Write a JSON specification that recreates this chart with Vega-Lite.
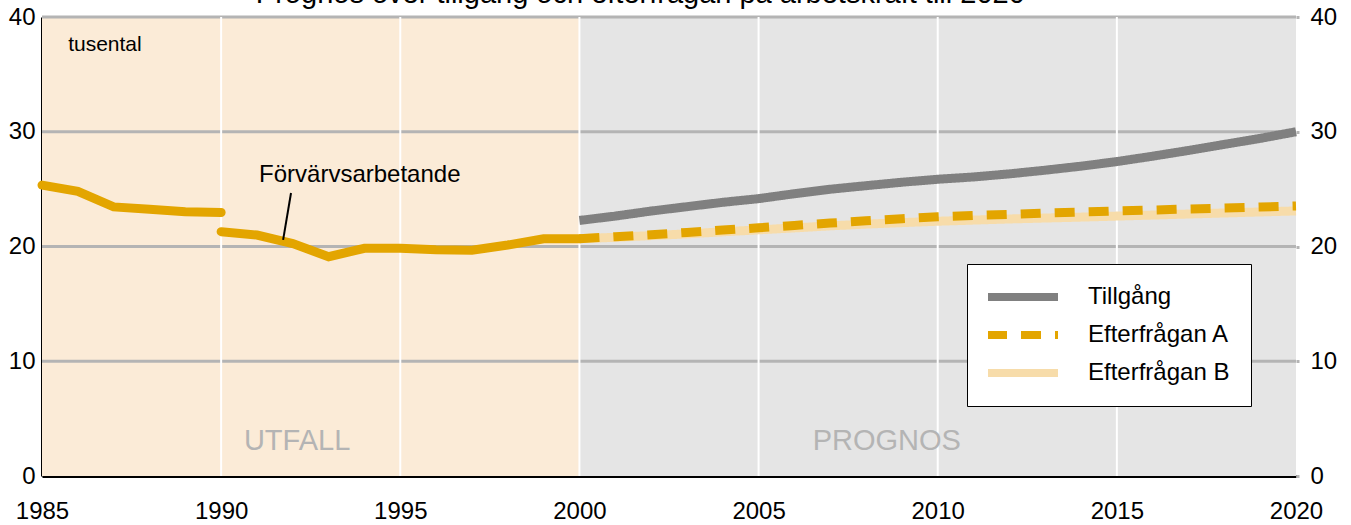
{
  "$schema": "https://vega.github.io/schema/vega-lite/v6.json",
  "width": 1254,
  "height": 459,
  "autosize": {"type": "none"},
  "padding": {"left": 42, "top": 17, "right": 55, "bottom": 49},
  "background": "white",
  "config": {
    "font": "Liberation Sans",
    "view": {"stroke": null},
    "axis": {"labelFont": "Liberation Sans", "labelColor": "#000000", "labelFontSize": 24, "title": null, "grid": false}
  },
  "datasets": {
    "periods": [
      {"start": 1985, "end": 2000, "period": "utfall"},
      {"start": 2000, "end": 2020, "period": "prognos"}
    ],
    "hgrid": [{"v": 10}, {"v": 20}, {"v": 30}, {"v": 40}],
    "vgrid": [{"yr": 1990}, {"yr": 1995}, {"yr": 2000}, {"yr": 2005}, {"yr": 2010}, {"yr": 2015}],
    "history": [
      {"year": 1985, "value": 25.35, "seg": "a"},
      {"year": 1986, "value": 24.8, "seg": "a"},
      {"year": 1987, "value": 23.45, "seg": "a"},
      {"year": 1988, "value": 23.25, "seg": "a"},
      {"year": 1989, "value": 23.03, "seg": "a"},
      {"year": 1990, "value": 22.97, "seg": "a"},
      {"year": 1990, "value": 21.29, "seg": "b"},
      {"year": 1991, "value": 21.0, "seg": "b"},
      {"year": 1992, "value": 20.25, "seg": "b"},
      {"year": 1993, "value": 19.11, "seg": "b"},
      {"year": 1994, "value": 19.84, "seg": "b"},
      {"year": 1995, "value": 19.84, "seg": "b"},
      {"year": 1996, "value": 19.72, "seg": "b"},
      {"year": 1997, "value": 19.68, "seg": "b"},
      {"year": 1998, "value": 20.13, "seg": "b"},
      {"year": 1999, "value": 20.68, "seg": "b"},
      {"year": 2000, "value": 20.68, "seg": "b"}
    ],
    "forecast": [
      {"year": 2000, "value": 22.27, "serie": "Tillgång"},
      {"year": 2001, "value": 22.65, "serie": "Tillgång"},
      {"year": 2002, "value": 23.09, "serie": "Tillgång"},
      {"year": 2003, "value": 23.47, "serie": "Tillgång"},
      {"year": 2004, "value": 23.85, "serie": "Tillgång"},
      {"year": 2005, "value": 24.17, "serie": "Tillgång"},
      {"year": 2006, "value": 24.6, "serie": "Tillgång"},
      {"year": 2007, "value": 24.99, "serie": "Tillgång"},
      {"year": 2008, "value": 25.3, "serie": "Tillgång"},
      {"year": 2009, "value": 25.6, "serie": "Tillgång"},
      {"year": 2010, "value": 25.86, "serie": "Tillgång"},
      {"year": 2011, "value": 26.06, "serie": "Tillgång"},
      {"year": 2012, "value": 26.33, "serie": "Tillgång"},
      {"year": 2013, "value": 26.65, "serie": "Tillgång"},
      {"year": 2014, "value": 27.0, "serie": "Tillgång"},
      {"year": 2015, "value": 27.4, "serie": "Tillgång"},
      {"year": 2016, "value": 27.87, "serie": "Tillgång"},
      {"year": 2017, "value": 28.37, "serie": "Tillgång"},
      {"year": 2018, "value": 28.9, "serie": "Tillgång"},
      {"year": 2019, "value": 29.42, "serie": "Tillgång"},
      {"year": 2020, "value": 30.0, "serie": "Tillgång"},
      {"year": 2000, "value": 20.68, "serie": "Efterfrågan B"},
      {"year": 2001, "value": 20.8, "serie": "Efterfrågan B"},
      {"year": 2002, "value": 20.95, "serie": "Efterfrågan B"},
      {"year": 2003, "value": 21.1, "serie": "Efterfrågan B"},
      {"year": 2004, "value": 21.28, "serie": "Efterfrågan B"},
      {"year": 2005, "value": 21.45, "serie": "Efterfrågan B"},
      {"year": 2006, "value": 21.62, "serie": "Efterfrågan B"},
      {"year": 2007, "value": 21.8, "serie": "Efterfrågan B"},
      {"year": 2008, "value": 21.95, "serie": "Efterfrågan B"},
      {"year": 2009, "value": 22.08, "serie": "Efterfrågan B"},
      {"year": 2010, "value": 22.2, "serie": "Efterfrågan B"},
      {"year": 2011, "value": 22.3, "serie": "Efterfrågan B"},
      {"year": 2012, "value": 22.4, "serie": "Efterfrågan B"},
      {"year": 2013, "value": 22.48, "serie": "Efterfrågan B"},
      {"year": 2014, "value": 22.56, "serie": "Efterfrågan B"},
      {"year": 2015, "value": 22.65, "serie": "Efterfrågan B"},
      {"year": 2016, "value": 22.74, "serie": "Efterfrågan B"},
      {"year": 2017, "value": 22.83, "serie": "Efterfrågan B"},
      {"year": 2018, "value": 22.92, "serie": "Efterfrågan B"},
      {"year": 2019, "value": 23.01, "serie": "Efterfrågan B"},
      {"year": 2020, "value": 23.1, "serie": "Efterfrågan B"},
      {"year": 2000, "value": 20.68, "serie": "Efterfrågan A"},
      {"year": 2001, "value": 20.85, "serie": "Efterfrågan A"},
      {"year": 2002, "value": 21.02, "serie": "Efterfrågan A"},
      {"year": 2003, "value": 21.22, "serie": "Efterfrågan A"},
      {"year": 2004, "value": 21.43, "serie": "Efterfrågan A"},
      {"year": 2005, "value": 21.63, "serie": "Efterfrågan A"},
      {"year": 2006, "value": 21.84, "serie": "Efterfrågan A"},
      {"year": 2007, "value": 22.04, "serie": "Efterfrågan A"},
      {"year": 2008, "value": 22.24, "serie": "Efterfrågan A"},
      {"year": 2009, "value": 22.42, "serie": "Efterfrågan A"},
      {"year": 2010, "value": 22.6, "serie": "Efterfrågan A"},
      {"year": 2011, "value": 22.71, "serie": "Efterfrågan A"},
      {"year": 2012, "value": 22.8, "serie": "Efterfrågan A"},
      {"year": 2013, "value": 22.92, "serie": "Efterfrågan A"},
      {"year": 2014, "value": 23.0, "serie": "Efterfrågan A"},
      {"year": 2015, "value": 23.1, "serie": "Efterfrågan A"},
      {"year": 2016, "value": 23.18, "serie": "Efterfrågan A"},
      {"year": 2017, "value": 23.27, "serie": "Efterfrågan A"},
      {"year": 2018, "value": 23.35, "serie": "Efterfrågan A"},
      {"year": 2019, "value": 23.44, "serie": "Efterfrågan A"},
      {"year": 2020, "value": 23.53, "serie": "Efterfrågan A"}
    ],
    "leader": [{"x1": 1991.73, "y1": 20.57, "x2": 1991.95, "y2": 24.66}],
    "labels": [
      {"lx": 1993.87, "ly": 26.2, "txt": "Förvärvsarbetande"}
    ],
    "heading": [
      {"lx": 2001.7, "ly": 41.22, "txt": "Prognos över tillgång och efterfrågan på arbetskraft till 2020"}
    ],
    "unit": [{"lx": 1985.73, "ly": 37.56, "txt": "tusental"}],
    "zones": [
      {"lx": 1992.12, "ly": 3.05, "txt": "UTFALL"},
      {"lx": 2008.58, "ly": 3.05, "txt": "PROGNOS"}
    ]
  },
  "resolve": {"axis": {"y": "independent"}},
  "layer": [
    {
      "data": {"name": "periods"},
      "mark": {"type": "rect"},
      "encoding": {
        "x": {"field": "start", "type": "quantitative", "scale": {"domain": [1985, 2020], "nice": false, "zero": false},
          "axis": {"values": [1985, 1990, 1995, 2000, 2005, 2010, 2015, 2020], "format": "d", "domainColor": "#000000", "domainWidth": 3, "ticks": false, "labelPadding": 23, "labelFlush": false, "labelOverlap": false}},
        "x2": {"field": "end"},
        "fill": {"field": "period", "type": "nominal", "scale": {"domain": ["utfall", "prognos"], "range": ["#FBEBD7", "#E5E5E5"]}, "legend": null}
      }
    },
    {
      "data": {"name": "hgrid"},
      "mark": {"type": "rule", "color": "#B4B4B4", "strokeWidth": 3},
      "encoding": {
        "y": {"field": "v", "type": "quantitative", "scale": {"domain": [0, 40], "nice": false},
          "axis": {"orient": "left", "values": [0, 10, 20, 30, 40], "domainColor": "#000000", "domainWidth": 3, "ticks": false, "labelPadding": 7, "labelFlush": false, "labelOverlap": false}}
      }
    },
    {
      "data": {"name": "vgrid"},
      "mark": {"type": "rule", "color": "#FFFFFF", "strokeWidth": 2},
      "encoding": {
        "x": {"field": "yr", "type": "quantitative"}
      }
    },
    {
      "data": {"name": "forecast"},
      "mark": {"type": "line", "strokeWidth": 9, "strokeCap": "butt"},
      "encoding": {
        "x": {"field": "year", "type": "quantitative"},
        "y": {"field": "value", "type": "quantitative",
          "axis": {"orient": "right", "values": [0, 10, 20, 30, 40], "domain": false, "ticks": true, "tickColor": "#B4B4B4", "tickWidth": 3, "tickSize": 3, "labelPadding": 11, "labelFlush": false, "labelOverlap": false}},
        "detail": {"field": "serie"},
        "order": {"field": "year"},
        "stroke": {"field": "serie", "type": "nominal", "scale": {"domain": ["Tillgång", "Efterfrågan A", "Efterfrågan B"], "range": ["#808080", "#E3A500", "#F7DCAA"]},
          "legend": {"orient": "none", "legendX": 925, "legendY": 247, "title": null, "fillColor": "#FFFFFF", "strokeColor": "#000000", "padding": 21, "symbolType": "stroke", "symbolSize": 5041, "symbolStrokeWidth": 8, "symbolOffset": -5, "clipHeight": 24, "rowPadding": 14, "labelFontSize": 24, "labelFont": "Liberation Sans", "labelColor": "#000000", "labelOffset": 26, "labelLimit": 300}},
        "strokeDash": {"field": "serie", "type": "nominal", "scale": {"domain": ["Tillgång", "Efterfrågan A", "Efterfrågan B"], "range": [[1, 0], [20, 14], [1, 0]]},
          "legend": {"orient": "none", "legendX": 925, "legendY": 247, "title": null, "fillColor": "#FFFFFF", "strokeColor": "#000000", "padding": 21, "symbolType": "stroke", "symbolSize": 5041, "symbolStrokeWidth": 8, "symbolOffset": -5, "clipHeight": 24, "rowPadding": 14, "labelFontSize": 24, "labelFont": "Liberation Sans", "labelColor": "#000000", "labelOffset": 26, "labelLimit": 300}}
      }
    },
    {
      "data": {"name": "history"},
      "mark": {"type": "line", "strokeWidth": 9, "strokeCap": "round", "strokeJoin": "miter", "color": "#E3A500"},
      "encoding": {
        "x": {"field": "year", "type": "quantitative"},
        "y": {"field": "value", "type": "quantitative", "axis": null},
        "detail": {"field": "seg"}
      }
    },
    {
      "data": {"name": "leader"},
      "mark": {"type": "rule", "color": "#000000", "strokeWidth": 2},
      "encoding": {
        "x": {"field": "x1", "type": "quantitative"},
        "y": {"field": "y1", "type": "quantitative", "axis": null},
        "x2": {"field": "x2"},
        "y2": {"field": "y2"}
      }
    },
    {
      "data": {"name": "labels"},
      "mark": {"type": "text", "fontSize": 24, "font": "Liberation Sans", "color": "#000000", "align": "center", "baseline": "middle"},
      "encoding": {
        "x": {"field": "lx", "type": "quantitative"},
        "y": {"field": "ly", "type": "quantitative", "axis": null},
        "text": {"field": "txt"}
      }
    },
    {
      "data": {"name": "heading"},
      "mark": {"type": "text", "fontSize": 29, "font": "Liberation Sans", "color": "#000000", "align": "center", "baseline": "alphabetic", "clip": false},
      "encoding": {
        "x": {"field": "lx", "type": "quantitative"},
        "y": {"field": "ly", "type": "quantitative", "axis": null},
        "text": {"field": "txt"}
      }
    },
    {
      "data": {"name": "unit"},
      "mark": {"type": "text", "fontSize": 21, "font": "Liberation Sans", "color": "#000000", "align": "left", "baseline": "middle"},
      "encoding": {
        "x": {"field": "lx", "type": "quantitative"},
        "y": {"field": "ly", "type": "quantitative", "axis": null},
        "text": {"field": "txt"}
      }
    },
    {
      "data": {"name": "zones"},
      "mark": {"type": "text", "fontSize": 29, "font": "Liberation Sans", "color": "#B4B4B4", "align": "center", "baseline": "middle"},
      "encoding": {
        "x": {"field": "lx", "type": "quantitative"},
        "y": {"field": "ly", "type": "quantitative", "axis": null},
        "text": {"field": "txt"}
      }
    }
  ]
}
